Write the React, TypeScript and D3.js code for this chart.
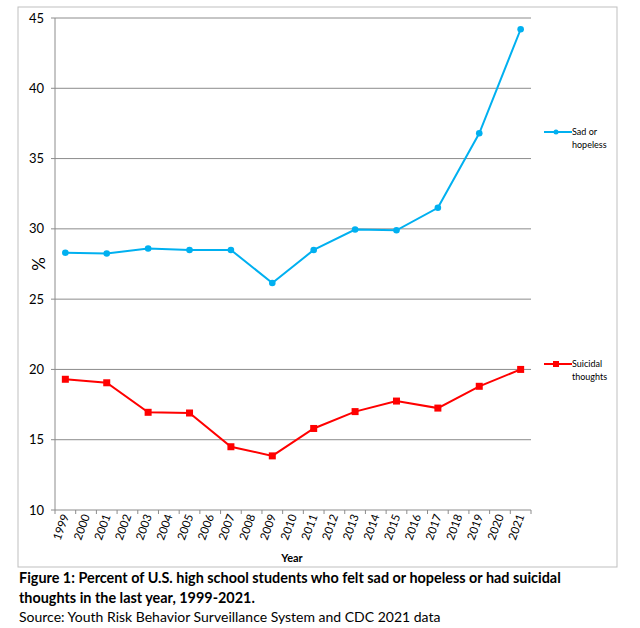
import React from "react";
import * as d3 from "d3";

const years = ["1999","2000","2001","2002","2003","2004","2005","2006","2007","2008","2009","2010","2011","2012","2013","2014","2015","2016","2017","2018","2019","2020","2021"];
const surveyYears = ["1999","2001","2003","2005","2007","2009","2011","2013","2015","2017","2019","2021"];
const sadHopeless = [28.3, 28.25, 28.6, 28.5, 28.5, 26.15, 28.5, 29.95, 29.9, 31.5, 36.8, 44.2];
const suicidal = [19.3, 19.05, 16.95, 16.9, 14.5, 13.85, 15.8, 17.0, 17.75, 17.25, 18.8, 20.0];
const yTicks = [10, 15, 20, 25, 30, 35, 40, 45];

const FONT = "Lato, 'Open Sans', sans-serif";

export default function App() {
  const left = 55, right = 531, top = 18, bottom = 510;
  const x = d3.scaleBand<string>().domain(years).range([left, right]);
  const y = d3.scaleLinear().domain([10, 45]).range([bottom, top]);
  const cx = (yr: string) => (x(yr) as number) + x.bandwidth() / 2;
  const line = d3.line<[string, number]>().x(d => cx(d[0])).y(d => y(d[1]));
  const sadData = surveyYears.map((yr, i) => [yr, sadHopeless[i]] as [string, number]);
  const suiData = surveyYears.map((yr, i) => [yr, suicidal[i]] as [string, number]);
  const blue = "#00B0F0", red = "#FF0000";
  const boundaries = years.map(yr => x(yr) as number).concat([right]);

  return (
    <svg width={640} height={628} style={{ position: "absolute", left: 0, top: 0, background: "#fff" }}>
      <rect x={18} y={7} width={599} height={560} fill="#fff" stroke="#BFBFBF" strokeWidth={1} />
      {yTicks.map(t => (
        <g key={t}>
          {t > 10 && <line x1={left} x2={right} y1={y(t)} y2={y(t)} stroke="#8C8C8C" strokeWidth={1} />}
          <line x1={left - 4} x2={left} y1={y(t)} y2={y(t)} stroke="#8C8C8C" />
          <text x={left - 11} y={y(t)} dy="0.35em" textAnchor="end" fontFamily={FONT} fontSize={13} fill="#000">{t}</text>
        </g>
      ))}
      <line x1={left} x2={left} y1={top} y2={bottom} stroke="#8C8C8C" />
      <line x1={left} x2={right} y1={bottom} y2={bottom} stroke="#8C8C8C" />
      {boundaries.map((b, i) => (
        <line key={i} x1={b} x2={b} y1={bottom} y2={bottom + 4} stroke="#8C8C8C" />
      ))}
      {years.map(yr => (
        <text key={yr} transform={`translate(${cx(yr) + 4},${bottom + 6}) rotate(-70)`} textAnchor="end" dy="0" fontFamily={FONT} fontSize={11.5} fill="#000">{yr}</text>
      ))}
      <text x={292} y={562} textAnchor="middle" fontFamily={FONT} fontWeight="bold" fontSize={11} fill="#000">Year</text>
      <text transform={`translate(45,264) rotate(-90)`} textAnchor="middle" fontFamily={FONT} fontSize={17} fill="#000">%</text>

      <path d={line(sadData) ?? ""} fill="none" stroke={blue} strokeWidth={2} />
      {sadData.map(d => <circle key={d[0]} cx={cx(d[0])} cy={y(d[1])} r={3.3} fill={blue} />)}
      <path d={line(suiData) ?? ""} fill="none" stroke={red} strokeWidth={2} />
      {suiData.map(d => <rect key={d[0]} x={cx(d[0]) - 3.5} y={y(d[1]) - 3.5} width={7} height={7} fill={red} />)}

      <line x1={544} x2={572} y1={132} y2={132} stroke={blue} strokeWidth={2} />
      <circle cx={556} cy={132} r={2.5} fill={blue} />
      <text x={572} y={132} dy="0.35em" fontFamily={FONT} fontSize={9} fill="#000">Sad or</text>
      <text x={572} y={145} dy="0.35em" fontFamily={FONT} fontSize={9} fill="#000">hopeless</text>

      <line x1={544} x2={572} y1={364} y2={364} stroke={red} strokeWidth={2} />
      <rect x={553} y={361} width={6} height={6} fill={red} />
      <text x={572} y={364} dy="0.35em" fontFamily={FONT} fontSize={9} fill="#000">Suicidal</text>
      <text x={572} y={377} dy="0.35em" fontFamily={FONT} fontSize={9} fill="#000">thoughts</text>

      <text x={19} y={583} fontFamily={FONT} fontWeight="bold" fontSize={14.4} fill="#000">Figure 1: Percent of U.S. high school students who felt sad or hopeless or had suicidal</text>
      <text x={19} y={603} fontFamily={FONT} fontWeight="bold" fontSize={14.4} fill="#000">thoughts in the last year, 1999-2021.</text>
      <text x={19} y={622} fontFamily={FONT} fontSize={14} fill="#000">Source: Youth Risk Behavior Surveillance System and CDC 2021 data</text>
    </svg>
  );
}
